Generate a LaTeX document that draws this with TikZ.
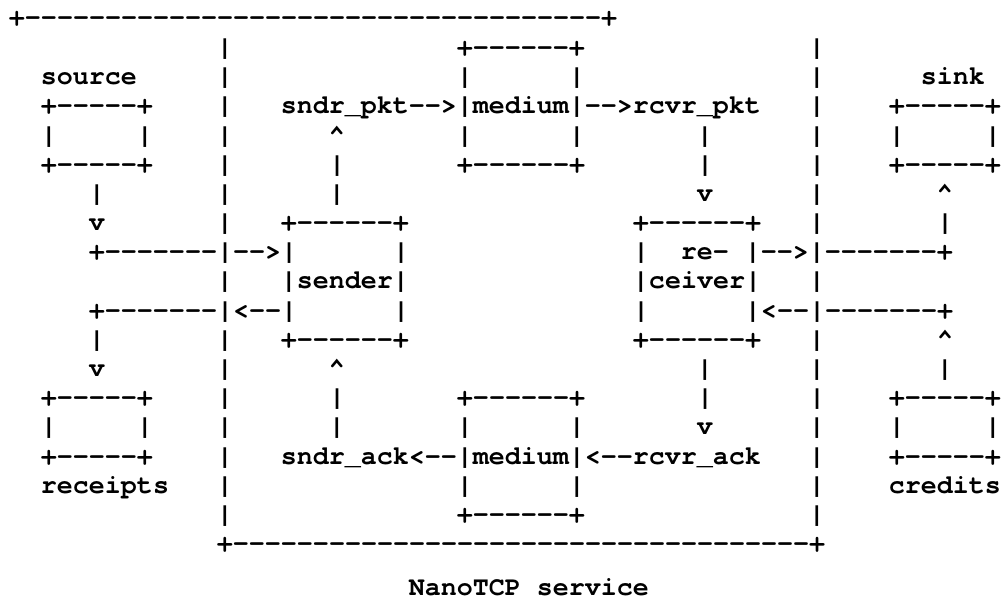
\documentclass[tikz,border=0pt]{standalone}
\usepackage{fontspec}
\setmonofont{texgyrecursor-regular.otf}[BoldFont=texgyrecursor-bold.otf]

% one character cell of the mono font = 16px
\newcommand\gap[1]{\hspace*{#1\dimexpr16pt\relax}}

\tikzset{
  asciirow/.style={anchor=base west, inner sep=0pt, outer sep=0pt,
    font=\ttfamily\bfseries\fontsize{26.667}{30}\selectfont},
}

\begin{document}
\begin{tikzpicture}[x=1pt, y=-1pt]

  %% ==== service frame, top (shifted left as in the picture) ====
  \node[asciirow] (r0)  at (9,26.0)  {+------------------------------------+};
  \node[asciirow] (r1)  at (9,55.5)  {\gap{13}|\gap{14}+------+\gap{14}|};
  \node[asciirow] (r2)  at (9,84.7)  {\gap{2}source\gap{5}|\gap{14}|\gap{6}|\gap{14}|\gap{6}sink};
  \node[asciirow] (r3)  at (9,113.9) {\gap{2}+-----+\gap{4}|\gap{3}sndr\_pkt-->|medium|-->rcvr\_pkt\gap{3}|\gap{4}+-----+};
  \node[asciirow] (r4)  at (9,143.1) {\gap{2}|\gap{5}|\gap{4}|\gap{6}\textasciicircum\gap{7}|\gap{6}|\gap{7}|\gap{6}|\gap{4}|\gap{5}|};
  \node[asciirow] (r5)  at (9,172.3) {\gap{2}+-----+\gap{4}|\gap{6}|\gap{7}+------+\gap{7}|\gap{6}|\gap{4}+-----+};
  \node[asciirow] (r6)  at (9,201.4) {\gap{5}|\gap{7}|\gap{6}|\gap{22}v\gap{6}|\gap{7}\textasciicircum};

  %% ==== sender / receiver ====
  \node[asciirow] (r7)  at (9,230.6) {\gap{5}v\gap{7}|\gap{3}+------+\gap{14}+------+\gap{3}|\gap{7}|};
  \node[asciirow] (r8)  at (9,259.8) {\gap{5}+-------|-->|\gap{6}|\gap{14}|\gap{2}re-\gap{1}|-->|-------+};
  \node[asciirow] (r9)  at (9,288.9) {\gap{13}|\gap{3}|sender|\gap{14}|ceiver|\gap{3}|};
  \node[asciirow] (r10) at (9,318.1) {\gap{5}+-------|<--|\gap{6}|\gap{14}|\gap{6}|<--|-------+};
  \node[asciirow] (r11) at (9,347.3) {\gap{5}|\gap{7}|\gap{3}+------+\gap{14}+------+\gap{3}|\gap{7}\textasciicircum};
  \node[asciirow] (r12) at (9,376.4) {\gap{5}v\gap{7}|\gap{6}\textasciicircum\gap{22}|\gap{6}|\gap{7}|};

  %% ==== acks, bottom ====
  \node[asciirow] (r13) at (9,405.6) {\gap{2}+-----+\gap{4}|\gap{6}|\gap{7}+------+\gap{7}|\gap{6}|\gap{4}+-----+};
  \node[asciirow] (r14) at (9,434.8) {\gap{2}|\gap{5}|\gap{4}|\gap{6}|\gap{7}|\gap{6}|\gap{7}v\gap{6}|\gap{4}|\gap{5}|};
  \node[asciirow] (r15) at (9,464.0) {\gap{2}+-----+\gap{4}|\gap{3}sndr\_ack<--|medium|<--rcvr\_ack\gap{3}|\gap{4}+-----+};
  \node[asciirow] (r16) at (9,493.1) {\gap{2}receipts\gap{3}|\gap{14}|\gap{6}|\gap{14}|\gap{4}credits};
  \node[asciirow] (r17) at (9,522.3) {\gap{13}|\gap{14}+------+\gap{14}|};
  \node[asciirow] (r18) at (9,551.5) {\gap{13}+------------------------------------+};

  \node[asciirow] (caption) at (9,595.0) {\gap{25}NanoTCP\gap{1}service};

  \pgfresetboundingbox
  \path[use as bounding box] (0,0) rectangle (1002,599);
\end{tikzpicture}
\end{document}
